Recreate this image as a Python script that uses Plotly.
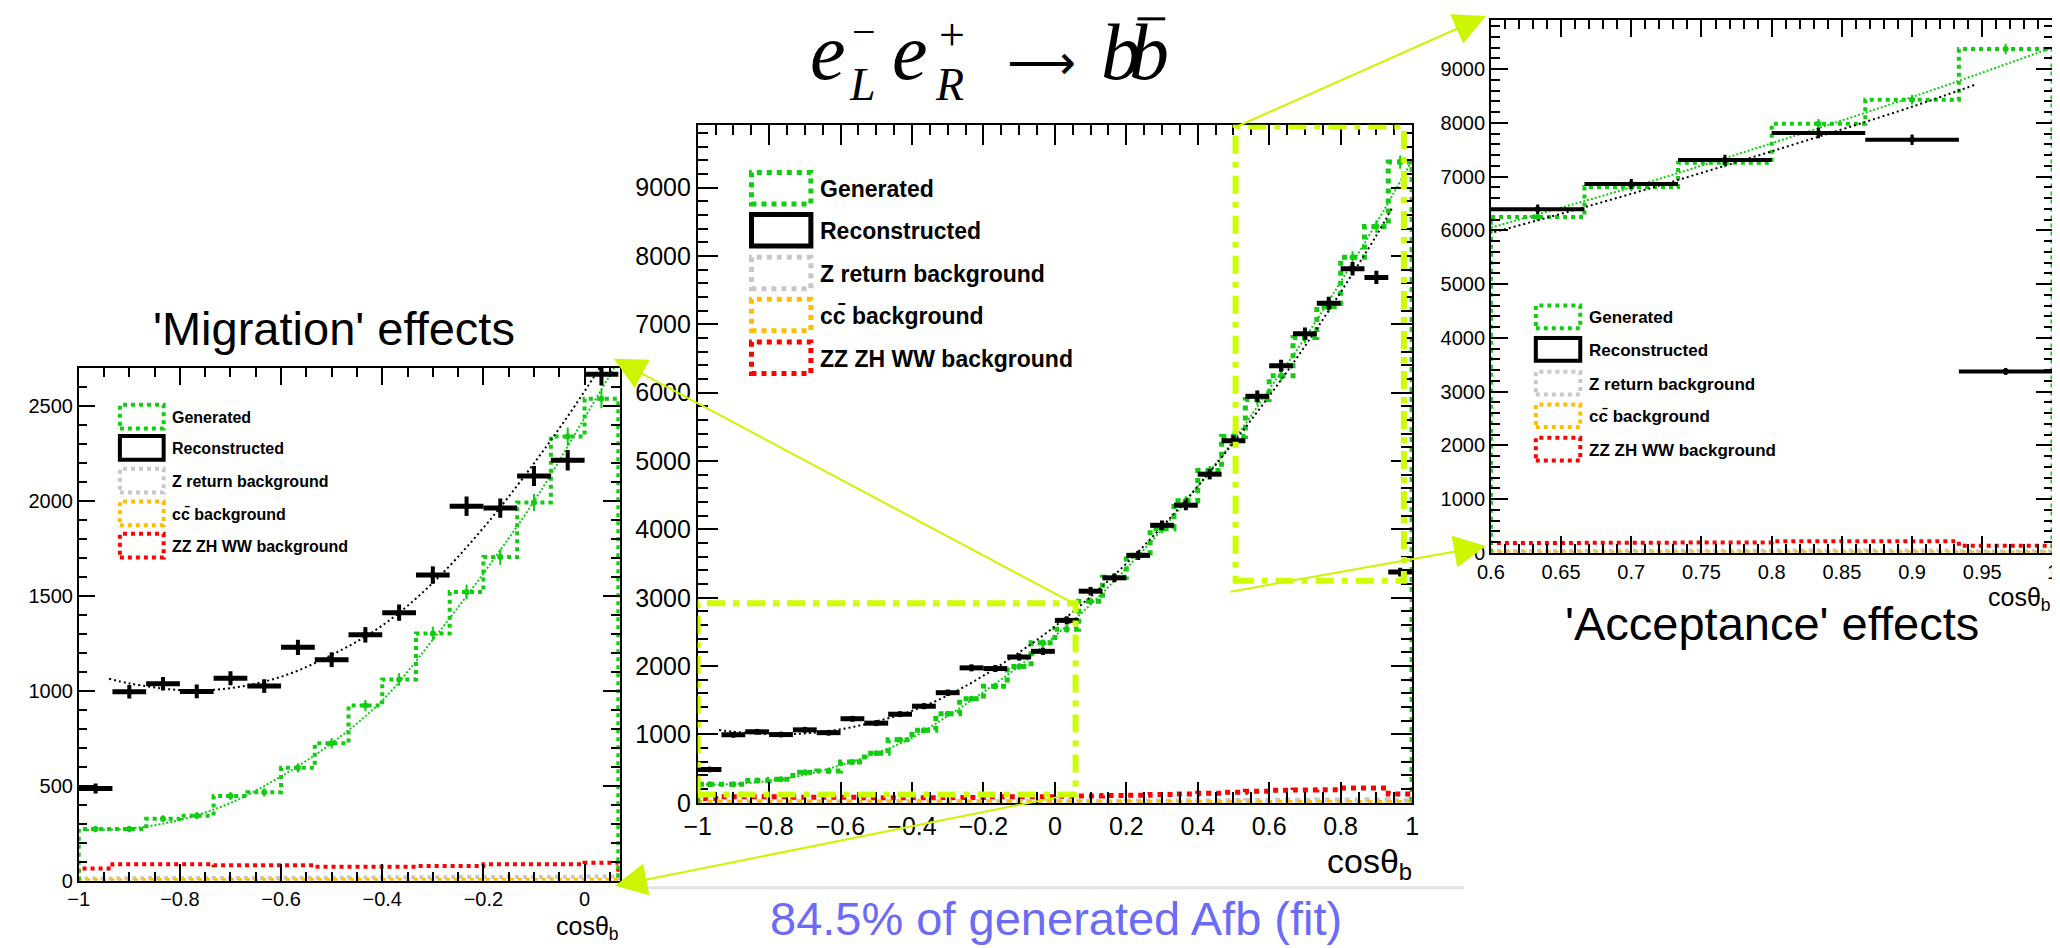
import numpy as np
import plotly.graph_objects as go

W, H = 2060, 948

# ---------------- data ----------------
bin_edges = list(np.round(np.linspace(-1.0, 1.0, 31), 6))          # 30 bins in cos(theta_b)
generated = [272, 272, 327, 343, 446, 466, 595, 724, 923, 1061, 1303, 1522, 1706, 1994, 2341, 2540,
             2950, 3300, 3620, 4010, 4420, 4860, 5360, 5900, 6247, 6808, 7257, 7982, 8431, 9374]
gen_err = [16, 16, 18, 19, 21, 22, 24, 27, 30, 33, 36, 39, 41, 45, 48, 50,
           54, 57, 60, 63, 66, 70, 73, 77, 79, 82, 85, 89, 92, 97]
reconstructed = [486, 996, 1038, 998, 1067, 1026, 1230, 1165, 1296, 1413, 1611, 1974, 1964, 2133, 2216, 2669,
                 3096, 3291, 3620, 4060, 4354, 4808, 5297, 5947, 6394, 6862, 7310, 7813, 7687, 3375]
reco_err = [26, 36, 36, 36, 37, 36, 40, 39, 41, 43, 46, 51, 51, 53, 54, 59,
            62, 64, 67, 71, 74, 77, 81, 86, 89, 92, 95, 98, 98, 65]
zret_bkg = [12, 13, 14, 14, 15, 15, 16, 16, 17, 18, 18, 19, 20, 20, 21, 22,
            23, 24, 25, 27, 28, 30, 32, 34, 36, 38, 40, 42, 44, 30]
cc_bkg = [3, 3, 4, 4, 4, 4, 4, 5, 5, 5, 5, 5, 5, 5, 5, 5,
          5, 5, 5, 5, 5, 6, 6, 6, 6, 6, 6, 6, 6, 4]
zz_bkg = [64, 87, 87, 87, 81, 81, 81, 73, 73, 73, 78, 78, 87, 87, 87, 95,
          100, 105, 110, 120, 130, 140, 155, 170, 185, 188, 190, 215, 215, 130]

gen_fit_x = [-1.0, -0.9, -0.8, -0.7, -0.6, -0.5, -0.4, -0.3, -0.2, -0.1, 0.0,
             0.1, 0.2, 0.3, 0.4, 0.5, 0.6, 0.7, 0.8, 0.9, 1.0]
gen_fit_y = [268, 275, 320, 410, 550, 725, 950, 1270, 1620, 2000, 2440,
             2900, 3430, 4000, 4630, 5300, 6050, 6800, 7620, 8480, 9400]
reco_fit_x = [-0.94, -0.9, -0.8, -0.7, -0.6, -0.5, -0.4, -0.3, -0.2, -0.1, 0.0,
              0.1, 0.2, 0.3, 0.4, 0.5, 0.6, 0.7, 0.8, 0.9, 0.946]
reco_fit_y = [1065, 1040, 1005, 1015, 1075, 1190, 1345, 1570, 1860, 2200, 2580,
              3015, 3500, 4040, 4630, 5270, 5950, 6680, 7470, 8300, 8720]

legend_labels = ["Generated", "Reconstructed", "Z return background", "cc\u0304 background", "ZZ ZH WW background"]

left_xtick_vals = [-1, -0.8, -0.6, -0.4, -0.2, 0]
left_xtick_text = ["\u22121", "\u22120.8", "\u22120.6", "\u22120.4", "\u22120.2", "0"]
left_ytick_vals = [0, 500, 1000, 1500, 2000, 2500]
left_ytick_text = ["0", "500", "1000", "1500", "2000", "2500"]
center_xtick_vals = [-1, -0.8, -0.6, -0.4, -0.2, 0, 0.2, 0.4, 0.6, 0.8, 1]
center_xtick_text = ["\u22121", "\u22120.8", "\u22120.6", "\u22120.4", "\u22120.2", "0", "0.2", "0.4", "0.6", "0.8", "1"]
big_ytick_vals = [0, 1000, 2000, 3000, 4000, 5000, 6000, 7000, 8000, 9000]
big_ytick_text = ["0", "1000", "2000", "3000", "4000", "5000", "6000", "7000", "8000", "9000"]
right_xtick_vals = [0.6, 0.65, 0.7, 0.75, 0.8, 0.85, 0.9, 0.95, 1.0]
right_xtick_text = ["0.6", "0.65", "0.7", "0.75", "0.8", "0.85", "0.9", "0.95", "1"]

# ---------------- styling ----------------
GREEN = "#12cc12"
RED = "#ff0000"
GREY = "#c8c8c8"
ORANGE = "#ffbf00"
LIME = "#ccff00"
ARROW = "#ccf500"


def PX(x):
    return x / W


def PY(y):
    return 1 - y / H


panels = {
    "left": dict(xa="x", ya="y", dom_x=[PX(57.3), PX(603.8)], dom_y=[PY(885.8), PY(365.3)],
                 xr=[-1.0, 0.0693], yr=[0, 2703], nb=16, b0=0,
                 xt=(left_xtick_vals, left_xtick_text), yt=(left_ytick_vals, left_ytick_text),
                 xminor=0.05, yminor=100, tl=17, tlm=9, fs=20, lw=4, rw=5),
    "center": dict(xa="x2", ya="y2", dom_x=[PX(682.6), PX(1404.4)], dom_y=[PY(806.7), PY(118.4)],
                   xr=[-1.0, 1.0], yr=[0, 9922], nb=30, b0=0,
                   xt=(center_xtick_vals, center_xtick_text), yt=(big_ytick_vals, big_ytick_text),
                   xminor=0.05, yminor=200, tl=21, tlm=11, fs=25, lw=5, rw=5),
    "right": dict(xa="x3", ya="y3", dom_x=[PX(1484), PX(2051.4)], dom_y=[PY(553), PY(12.2)],
                  xr=[0.6, 1.0], yr=[0, 9913], nb=6, b0=24,
                  xt=(right_xtick_vals, right_xtick_text), yt=(big_ytick_vals, big_ytick_text),
                  xminor=0.01, yminor=200, tl=17, tlm=9, fs=20, lw=4, rw=4),
}

fig = go.Figure()


def step_xy(edges, vals):
    x = [edges[0]] + list(edges[:-1]) + [edges[-1]]
    y = [0] + list(vals) + [0]
    return x, y


for name, p in panels.items():
    b0, nb = p["b0"], p["nb"]
    edges = bin_edges[b0:b0 + nb + 1]
    sl = slice(b0, b0 + nb)
    centers = [(bin_edges[i] + bin_edges[i + 1]) / 2 for i in range(b0, b0 + nb)]
    half = (bin_edges[1] - bin_edges[0]) / 2
    common = dict(xaxis=p["xa"], yaxis=p["ya"], hoverinfo="skip", showlegend=False)
    for vals, col in [(zz_bkg, RED), (zret_bkg, GREY), (cc_bkg, ORANGE), (generated, GREEN)]:
        x, y = step_xy(edges, vals[sl])
        fig.add_trace(go.Scatter(x=x, y=y, mode="lines", line=dict(color=col, width=p["lw"], dash="dot", shape="hv"),
                                 **common))
    # generated points with errors
    fig.add_trace(go.Scatter(x=centers, y=generated[sl], mode="markers", marker=dict(size=0, color=GREEN),
                             error_y=dict(type="data", array=gen_err[sl], thickness=2, width=0, color=GREEN),
                             **common))
    # generated fit
    fig.add_trace(go.Scatter(x=gen_fit_x, y=gen_fit_y, mode="lines",
                             line=dict(color=GREEN, width=2, dash="2px,2px", shape="spline"), **common))
    # reconstructed
    fig.add_trace(go.Scatter(x=centers, y=reconstructed[sl], mode="markers", marker=dict(size=0, color="black"),
                             error_x=dict(type="constant", value=half, thickness=p["rw"], width=0, color="black"),
                             error_y=dict(type="data", array=reco_err[sl], thickness=p["rw"] - 1, width=0,
                                          color="black"),
                             **common))
    # reconstructed fit
    fig.add_trace(go.Scatter(x=reco_fit_x, y=reco_fit_y, mode="lines",
                             line=dict(color="black", width=2, dash="2px,3px", shape="spline"), **common))


def axis(p, which):
    if which == "x":
        vals, text = p["xt"]
        lo, hi = p["xr"]
        step = p["xminor"]
        dom, rng, anchor = p["dom_x"], p["xr"], p["ya"]
    else:
        vals, text = p["yt"]
        lo, hi = p["yr"]
        step = p["yminor"]
        dom, rng, anchor = p["dom_y"], p["yr"], p["xa"]
    start = np.ceil(lo / step - 1e-9) * step
    minor_vals = list(np.round(np.arange(start, hi + 1e-9, step), 6))
    return dict(domain=dom, range=rng, anchor=anchor, showgrid=False, zeroline=False,
                showline=True, linecolor="black", linewidth=1.5, mirror="allticks",
                ticks="inside", ticklen=p["tl"], tickwidth=1.5, tickcolor="black",
                tickmode="array", tickvals=vals, ticktext=text,
                tickfont=dict(family="Liberation Sans", size=p["fs"], color="black"),
                minor=dict(tickmode="array", tickvals=minor_vals, ticks="inside", ticklen=p["tlm"],
                           tickwidth=1.5, tickcolor="black", showgrid=False),
                fixedrange=True)


layout_axes = {}
for key, p in panels.items():
    xs = "xaxis" + p["xa"][1:]
    ys = "yaxis" + p["ya"][1:]
    layout_axes[xs] = axis(p, "x")
    layout_axes[ys] = axis(p, "y")

shapes = []
annotations = []


def txt(x, y, s, size, color="black", family="Liberation Sans", xanchor="center", yanchor="middle"):
    annotations.append(dict(x=PX(x), y=PY(y), xref="paper", yref="paper", text=s, showarrow=False,
                            font=dict(family=family, size=size, color=color),
                            xanchor=xanchor, yanchor=yanchor, borderpad=0))


# legends (drawn as boxes + labels)
legend_specs = [
    dict(bx=(98.9, 143.1), rows=[414.8, 446.5, 479.7, 512.9, 545.7], hh=12, tx=151, fs=16, lw=4),
    dict(bx=(737.0, 797.0), rows=[183.0, 225.5, 269.0, 311.5, 355.0], hh=16, tx=805, fs=23, lw=5),
    dict(bx=(1529.4, 1574.3), rows=[313.5, 346.5, 380.8, 413.9, 447.8], hh=11.5, tx=1582.5, fs=17, lw=4),
]
legend_styles = [(GREEN, "dot"), ("black", "solid"), (GREY, "dot"), (ORANGE, "dot"), (RED, "dot")]
for spec in legend_specs:
    for (col, dash), row, lab in zip(legend_styles, spec["rows"], legend_labels):
        shapes.append(dict(type="rect", xref="paper", yref="paper",
                           x0=PX(spec["bx"][0]), x1=PX(spec["bx"][1]),
                           y0=PY(row + spec["hh"]), y1=PY(row - spec["hh"]),
                           line=dict(color=col, width=spec["lw"], dash=dash)))
        txt(spec["tx"], row + 1, "<b>" + lab + "</b>", spec["fs"], xanchor="left")

# zoom-region rectangles on the central plot
shapes.append(dict(type="rect", xref="x2", yref="y2", x0=-1.0, x1=0.058, y0=120, y1=2921,
                   line=dict(color=LIME, width=6, dash="18px,8px,6px,8px")))
shapes.append(dict(type="rect", xref="x2", yref="y2", x0=0.506, x1=0.977, y0=3249, y1=9894,
                   line=dict(color=LIME, width=6, dash="18px,8px,6px,8px")))

# grey separator line under the central plot
shapes.append(dict(type="line", xref="paper", yref="paper", x0=PX(628), x1=PX(1457), y0=PY(893), y1=PY(893),
                   line=dict(color="#e2e2e2", width=3)))

# arrows (tip, tail) in pixels
arrows = [((598, 356), (1062, 603)), ((599, 891), (1063, 798)),
          ((1479, 8), (1227, 120)), ((1479, 546), (1222, 592))]
for (hx, hy), (tx_, ty_) in arrows:
    annotations.append(dict(x=PX(hx), y=PY(hy), xref="paper", yref="paper", text="", showarrow=True,
                            ax=tx_ - hx, ay=ty_ - hy, axref="pixel", ayref="pixel",
                            arrowhead=2, arrowsize=3.2, arrowwidth=2, arrowcolor=ARROW, standoff=0))

# axis titles
txt(604, 917, "cos\u03b8<sub>b</sub>", 25, xanchor="right", yanchor="top")
txt(1405, 845, "cos\u03b8<sub>b</sub>", 34, xanchor="right", yanchor="top")
txt(2051, 583, "cos\u03b8<sub>b</sub>", 25, xanchor="right", yanchor="top")

# headings
txt(315, 325.4, "'Migration' effects", 47)
txt(1768, 624.7, "'Acceptance' effects", 47)
txt(1045, 923.7, "84.5% of generated Afb (fit)", 47, color="#6b6bf7")

# title  e_L^- e_R^+ -> b bbar
SERIF = "Liberation Serif"
txt(814, 44.5, "<i>e</i>", 80, family=SERIF)
txt(851, 0.5, "\u2212", 42, family=SERIF, yanchor="top")
txt(849, 78, "<i>L</i>", 46, family=SERIF)
txt(897, 44.5, "<i>e</i>", 80, family=SERIF)
txt(940, 0.5, "+", 46, family=SERIF, yanchor="top")
txt(937, 78, "<i>R</i>", 46, family=SERIF)
txt(1030, 55, "\u27f6", 48, family="DejaVu Sans")
txt(1110, 44.5, "<i>b</i>", 80, family=SERIF)
txt(1139, 44.5, "<i>b</i>", 80, family=SERIF)
shapes.append(dict(type="line", xref="paper", yref="paper", x0=PX(1127), x1=PX(1155), y0=PY(11), y1=PY(11),
                   line=dict(color="black", width=3)))

fig.update_layout(width=W, height=H, margin=dict(l=0, r=0, t=0, b=0), autosize=False,
                  paper_bgcolor="white", plot_bgcolor="white", showlegend=False,
                  shapes=shapes, annotations=annotations, **layout_axes)

fig.write_html("out.html", config={"displayModeBar": False, "responsive": False})
